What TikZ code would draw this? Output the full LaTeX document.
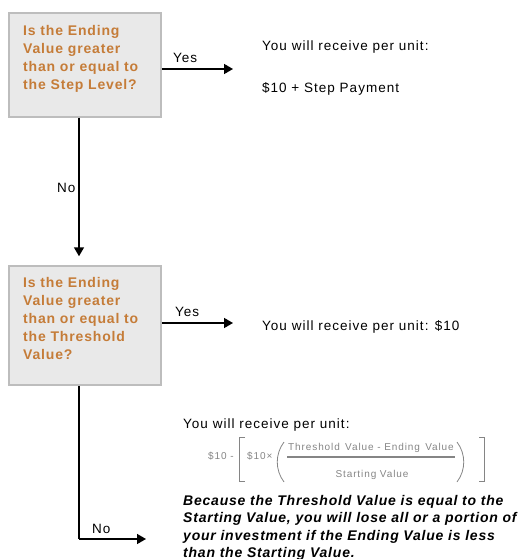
\documentclass[tikz,border=0pt]{standalone}
\usepackage{fontspec}
\setmainfont{Liberation Sans}
\usetikzlibrary{arrows.meta}
\definecolor{boxfill}{HTML}{E9E9E9}
\definecolor{boxline}{HTML}{BDBDBD}
\definecolor{qtext}{HTML}{C57C38}
\definecolor{ftext}{HTML}{858585}
\tikzset{
  qbox/.style={draw=boxline, fill=boxfill, line width=1.5pt, minimum width=152pt, minimum height=104pt, inner sep=0pt},
  qlabel/.style={text=qtext, font=\fontsize{14}{18}\selectfont\bfseries\addfontfeature{LetterSpace=6}, align=left, inner sep=0pt, anchor=north west},
  plain/.style={font=\fontsize{13.5}{16}\selectfont\addfontfeature{LetterSpace=7.5}, inner sep=0pt, anchor=base west},
  flabel/.style={font=\fontsize{10}{12}\selectfont\addfontfeature{LetterSpace=9}, text=ftext, inner sep=0pt},
  note/.style={font=\fontsize{14}{17.4}\selectfont\bfseries\itshape\addfontfeature{LetterSpace=5.6}, align=left, inner sep=0pt, anchor=north west},
  arr/.style={line width=1.5pt, -{Triangle[length=9pt,width=10pt]}},
  fline/.style={draw=ftext, line width=0.8pt}
}
\begin{document}
\begin{tikzpicture}[x=1pt,y=-1pt]
\useasboundingbox (0,0) rectangle (522,559);
% boxes
\node[qbox] (b1) at (85,65) {};
\node[qbox, minimum height=119pt] (b2) at (85,325.5) {};
\node[qlabel] (q1) at (23,25.5) {Is the Ending\\Value greater\\than or equal to\\the Step Level?};
\node[qlabel] (q2) at (23,277.5) {Is the Ending\\Value greater\\than or equal to\\the Threshold\\Value?};
% outcome texts
\node[plain] (r1) at (262,51) {You will receive per unit:};
\node[plain] (r1b) at (262,93) {\$10 + Step Payment};
\node[plain] (r2) at (262,330) {You will receive per unit: \$10};
\node[plain] (r3) at (183,428) {You will receive per unit:};
\node[note] (n3) at (183,495) {Because the Threshold Value is equal to the\\Starting Value, you will lose all or a portion of\\your investment if the Ending Value is less\\than the Starting Value.};
% connectors
\coordinate (e1) at (233,69);
\coordinate (e2) at (233,323);
\coordinate (c3) at (79,539);
\coordinate (e3) at (146,539);
\draw[arr] (b1.east |- e1) -- (e1);
\draw[arr] (b2.east |- e2) -- (e2);
\draw[arr, shorten >=9pt] (b1.south -| c3) -- (b2.north -| c3);
\draw[line width=1.5pt] (b2.south -| c3) -- (c3);
\draw[arr] (c3) -- (e3);
% connector labels
\node[plain] (y1) at (173,63) {Yes};
\node[plain] (y2) at (175,316) {Yes};
\node[plain] (no1) at (57,192) {No};
\node[plain] (no2) at (92,533) {No};
% formula
\node[flabel, anchor=base west] (f1) at (208,459) {\$10 -};
\node[flabel, anchor=base west] (f2) at (247,459) {\$10×};
\node[flabel, anchor=base] (fn) at (371,450) {Threshold\, Value - Ending\, Value};
\node[flabel, anchor=base] (fd) at (372,477) {Starting Value};
\draw[fline, line width=1.5pt] (287,457) -- (455,457);
\draw[fline] (245,437) -- (239.5,437) -- (239.5,481) -- (245,481);
\draw[fline] (479,437) -- (484,437) -- (484,481) -- (479,481);
\draw[fline] (284,442) .. controls (275,454) and (275,470) .. (284,482);
\draw[fline] (457,442) .. controls (466,454) and (466,470) .. (457,482);
\end{tikzpicture}
\end{document}
